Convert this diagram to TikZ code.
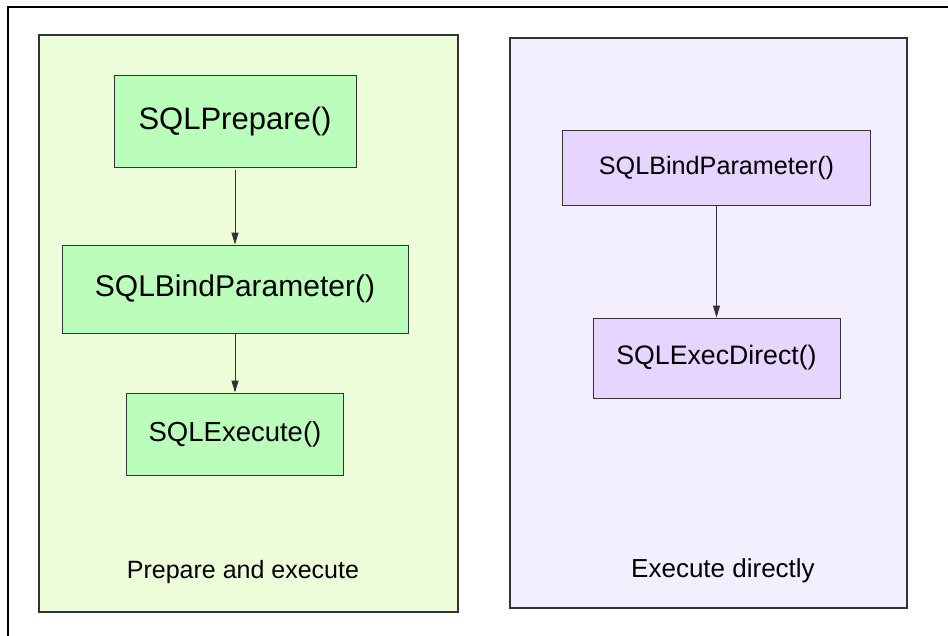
\documentclass[tikz,border=0pt]{standalone}
\usepackage{fontspec}
\setmainfont{Liberation Sans}
\usepackage{xcolor}
\usepackage{tikz}
\usetikzlibrary{arrows.meta,positioning,calc}

\definecolor{prepfill}{HTML}{EEFDD9}
\definecolor{directfill}{HTML}{F3EFFF}
\definecolor{greencall}{HTML}{BBFDBB}
\definecolor{violetcall}{HTML}{E6D5FF}
\definecolor{edgegrey}{HTML}{333333}

\begin{document}
\begin{tikzpicture}[
    x=1pt,y=-1pt,
    >={Triangle[length=12pt,width=7pt]},
    arrow/.style={->,line width=1pt,draw=edgegrey,fill=edgegrey},
    frame/.style={line width=2pt,draw=black},
    panel/.style={draw=edgegrey,line width=1.2pt,inner sep=0pt},
    greenbox/.style={draw=edgegrey,fill=greencall,line width=0.9pt,inner sep=0pt},
    violetbox/.style={draw=edgegrey,fill=violetcall,line width=0.9pt,inner sep=0pt},
    note/.style={inner sep=0pt}
  ]
    \useasboundingbox (0,0) rectangle (948,636);
    \draw[frame] (948,7) -- (8,7) -- (8,636);
    % the two ways of running a statement
    \node[panel,fill=prepfill,minimum width=419pt,minimum height=577pt]
      (prepPanel) at (248.5,323.5) {};
    \node[panel,fill=directfill,minimum width=397pt,minimum height=570pt]
      (directPanel) at (708.5,323) {};
    \node[greenbox,minimum width=242pt,minimum height=92pt] (prepare) at (235,121)
      {\fontsize{31}{36}\selectfont SQLPrepare()};
    \node[greenbox,minimum width=346pt,minimum height=88pt] (bindLeft) at (235,289)
      {\fontsize{30}{36}\selectfont SQLBindParameter()};
    \node[greenbox,minimum width=217pt,minimum height=82pt] (execute) at (235,434)
      {\fontsize{27.5}{32}\selectfont SQLExecute()};
    \node[violetbox,minimum width=308pt,minimum height=75pt] (bindRight) at (716.5,167.5)
      {\fontsize{25.2}{30}\selectfont SQLBindParameter()};
    \node[violetbox,minimum width=247pt,minimum height=80pt] (direct) at (716.5,358)
      {\fontsize{26.7}{32}\selectfont SQLExecDirect()};
    \draw[arrow,shorten <=3pt] (prepare) -- (bindLeft);
    \draw[arrow] (bindLeft) -- (execute);
    \draw[arrow] (bindRight) -- (direct);
    \node[note] (prepLabel) at (243,572) {\fontsize{25}{30}\selectfont Prepare and execute};
    \node[note] (directLabel) at (723,571) {\fontsize{26}{30}\selectfont Execute directly};
  \end{tikzpicture}
\end{document}
